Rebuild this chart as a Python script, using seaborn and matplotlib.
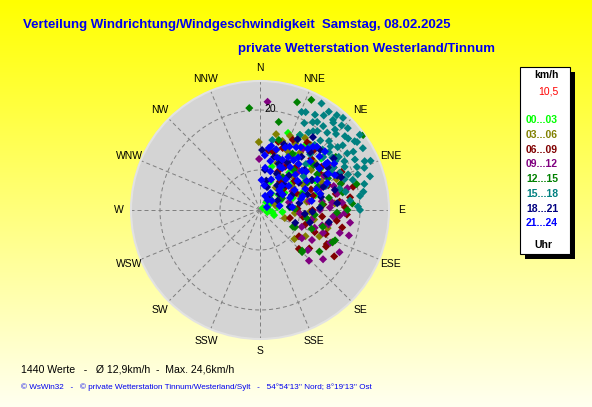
import numpy as np
import pandas as pd
import matplotlib

matplotlib.use("Agg")
import matplotlib.pyplot as plt
from matplotlib.patches import Rectangle
import seaborn as sns

# time-of-day groups and their colours
groups = ["00...03", "03...06", "06...09", "09...12", "12...15", "15...18", "18...21", "21...24"]
group_colors = ["#00FF00", "#808000", "#800000", "#800080", "#008000", "#008080", "#000080", "#0000FF"]

# (direction in degrees, speed in km/h)
pts_00_03 = [(20, 16.4), (35, 15.8), (28, 12.5), (45, 3.0), (60, 2.2), (75, 1.5), (40, 5.5), (55, 6.0),
             (30, 7.5), (50, 8.5), (65, 4.5), (80, 3.5), (25, 10.0), (42, 11.0), (58, 10.5), (70, 7.0),
             (35, 4.0), (15, 9.0), (90, 1.8), (100, 2.5), (48, 13.5), (62, 12.5), (38, 9.5), (52, 4.8),
             (20, 6.0), (68, 9.0), (85, 6.0), (30, 3.2), (44, 7.0), (56, 14.5), (10, 12.0), (75, 11.5),
             (95, 4.5), (110, 3.0), (40, 2.0), (33, 13.0), (56, 0.7), (106, 1.5), (28, 17.0), (15, 12.5),
             (50, 16.0)]
pts_03_06 = [(359, 13.6), (18, 14.5), (22, 16.0), (28, 15.0), (32, 17.0), (25, 13.0), (15, 12.5), (35, 14.0),
             (40, 12.0), (30, 11.0), (20, 10.0), (45, 9.5), (12, 15.5), (38, 16.5), (50, 11.5), (55, 8.0),
             (60, 10.0), (42, 7.0), (70, 8.5), (80, 9.5), (95, 7.0), (108, 5.2), (114, 13.0), (114, 15.8),
             (120, 10.5), (100, 11.0), (72, 3.2), (65, 13.5), (48, 14.5), (27, 8.0), (35, 5.5), (88, 12.0),
             (105, 14.0), (130, 9.0), (58, 16.0), (62, 14.5), (75, 12.5), (85, 15.0), (68, 16.5), (92, 10.0),
             (52, 13.0)]
pts_06_09 = [(82, 18.2), (93, 17.4), (102, 16.8), (112, 11.8), (124, 9.4), (119, 15.1), (101, 13.9), (105, 6.2),
             (99, 8.7), (85, 12.7), (117, 15.0), (76, 19.2), (13, 11.9), (15, 14.1), (20, 13.2), (30, 10.0),
             (40, 11.5), (50, 9.0), (60, 12.0), (45, 14.5), (35, 7.0), (55, 5.5), (65, 8.0), (70, 14.5),
             (90, 10.5), (110, 14.0), (128, 12.5), (95, 15.0), (25, 8.5), (48, 6.5), (75, 11.0), (108, 9.5),
             (135, 11.0), (88, 7.5), (42, 16.0), (122, 17.5), (25, 15.5), (35, 16.5), (55, 15.0), (60, 17.0),
             (8, 12.0), (65, 18.0), (78, 15.5), (72, 17.0), (84, 16.0), (96, 12.5), (58, 14.0), (68, 11.0),
             (88, 17.0), (98, 15.5)]
pts_09_12 = [(98, 18.2), (106, 18.5), (106, 16.6), (104, 12.8), (110, 13.4), (95, 14.7), (124, 10.1), (136, 14.1),
             (4, 21.7), (359, 10.2), (78, 15.8), (58, 16.4), (115, 15.5), (100, 10.5), (120, 12.0), (90, 12.0),
             (85, 16.5), (112, 9.0), (128, 16.0), (70, 13.0), (50, 12.0), (40, 9.0), (30, 12.5), (60, 7.5),
             (45, 11.0), (80, 10.0), (95, 8.0), (118, 18.0), (65, 17.5), (35, 15.0), (25, 10.5), (102, 14.0),
             (108, 11.5), (130, 12.5), (75, 6.0), (88, 14.0), (72, 15.5), (82, 12.5), (62, 14.5), (92, 17.0),
             (76, 18.0), (94, 16.0), (84, 14.5)]
pts_12_15 = [(354, 20.5), (19, 22.8), (25, 24.3), (12, 18.0), (54, 25.5), (134, 11.7), (114, 15.9), (116, 7.8),
             (92, 15.4), (112, 16.2), (135, 11.9), (117, 7.4), (78, 16.9), (30, 13.0), (40, 10.5), (50, 14.0),
             (60, 11.0), (70, 9.0), (45, 6.0), (35, 8.0), (20, 11.0), (55, 18.5), (65, 15.0), (85, 12.5),
             (100, 9.5), (105, 13.0), (125, 14.5), (75, 20.0), (42, 17.0), (28, 16.0), (88, 7.0), (62, 5.0),
             (15, 14.5), (110, 11.0), (80, 14.0), (68, 12.5), (90, 17.5), (58, 13.5), (72, 17.0), (95, 11.0),
             (86, 18.5)]
pts_15_18 = [(30, 24.6), (25, 21.6), (39, 24.4), (39, 23.2), (34, 22.8), (54, 23.4), (51, 22.7), (66, 24.2),
             (66, 21.2), (31, 20.5), (41, 20.5), (51, 20.0), (54, 17.9), (65, 17.6), (41, 18.4), (32, 18.3),
             (57, 20.8), (46, 17.4), (10, 14.2), (23, 21.3), (55, 23.7), (65, 23.1), (70, 20.8), (84, 18.1),
             (88, 19.6), (82, 20.2), (45, 21.5), (48, 19.0), (36, 19.5), (44, 23.5), (60, 19.5), (58, 22.0),
             (62, 16.0), (50, 16.5), (38, 16.0), (28, 17.0), (42, 15.0), (55, 14.5), (70, 18.0), (75, 16.5),
             (47, 24.0), (35, 24.0), (62, 21.5), (53, 25.0), (43, 22.0), (40, 17.0), (57, 18.0), (33, 21.0),
             (30, 22.0), (37, 21.0), (42, 24.8), (49, 22.5), (52, 21.0), (56, 19.0), (59, 24.0), (63, 19.0),
             (68, 22.5), (72, 19.5), (78, 17.5), (45, 19.5), (40, 22.8), (34, 19.0), (27, 19.5), (50, 18.0),
             (60, 17.0), (73, 23.0), (80, 21.0), (90, 20.0), (45, 13.0), (60, 12.0), (70, 14.0), (52, 11.0),
             (76, 21.5), (68, 19.0)]
pts_18_21 = [(17, 4.8), (7, 8.1), (84, 6.0), (104, 10.3), (66, 16.9), (41, 15.3), (2, 12.0), (12, 6.0),
             (15, 11.0), (20, 14.0), (25, 8.0), (28, 16.0), (30, 11.0), (35, 6.0), (38, 13.5), (40, 9.0),
             (45, 17.0), (48, 12.0), (50, 5.0), (52, 14.5), (55, 9.5), (58, 16.0), (60, 12.0), (65, 7.0),
             (70, 13.5), (72, 10.0), (75, 15.5), (80, 8.0), (88, 12.0), (95, 9.0), (100, 14.0), (110, 7.5),
             (32, 3.5), (44, 7.0), (62, 4.0), (22, 10.0), (36, 18.0), (62, 15.0), (78, 12.5), (85, 15.5),
             (68, 17.5), (55, 18.0), (92, 10.5)]
pts_21_24 = [(7, 8.5), (67, 1.5), (3, 6.0), (5, 11.0), (10, 5.0), (10, 13.0), (15, 8.0), (15, 12.5),
             (18, 11.0), (20, 6.5), (22, 13.5), (25, 9.5), (25, 14.0), (28, 12.0), (30, 7.5), (30, 14.5),
             (32, 4.0), (33, 15.0), (35, 10.5), (36, 13.0), (38, 15.5), (40, 8.0), (40, 12.0), (42, 17.0),
             (44, 5.5), (45, 10.0), (46, 14.0), (48, 16.0), (50, 7.5), (50, 12.0), (52, 9.5), (55, 14.5),
             (56, 5.5), (58, 11.0), (60, 8.0), (62, 13.0), (65, 10.0), (68, 6.5), (70, 12.0), (75, 8.5),
             (78, 4.0), (80, 10.5), (85, 6.5), (20, 3.0), (38, 2.5), (52, 3.0), (28, 9.5), (42, 6.5),
             (12, 10.0), (34, 12.0), (47, 11.5), (24, 11.0), (8, 12.5), (55, 16.5), (62, 15.5), (68, 14.5),
             (72, 9.0), (48, 17.5), (55, 16.0), (58, 17.5), (65, 16.5), (75, 12.5), (40, 16.5)]
all_pts = [pts_00_03, pts_03_06, pts_06_09, pts_09_12, pts_12_15, pts_15_18, pts_18_21, pts_21_24]

compass = ["N", "NNE", "NE", "ENE", "E", "ESE", "SE", "SSE",
           "S", "SSW", "SW", "WSW", "W", "WNW", "NW", "NNW"]
ring_speeds = [8, 20]
r_max = 25.8

title = "Verteilung Windrichtung/Windgeschwindigkeit  Samstag, 08.02.2025"
subtitle = "private Wetterstation Westerland/Tinnum"
stats_line = "1440 Werte   -   \u00d8 12,9km/h  -  Max. 24,6km/h"
credit_line = "\u00a9 WsWin32   -   \u00a9 private Wetterstation Tinnum/Westerland/Sylt   -   54\u00b054'13'' Nord; 8\u00b019'13'' Ost"
current_speed = "10,5"

rows = []
for g, pts in zip(groups, all_pts):
    for d, s in pts:
        rows.append((g, np.deg2rad(d), s))
df = pd.DataFrame(rows, columns=["group", "theta", "speed"])

plt.rcParams["font.family"] = ["Liberation Sans", "DejaVu Sans"]

W, H = 592, 407


def fx(px):
    return px / W


def fy(py):
    return 1 - py / H


fig = plt.figure(figsize=(W / 100, H / 100), dpi=100)

# yellow to cream gradient background
bg = fig.add_axes([0, 0, 1, 1])
grad = np.linspace(0, 0.94, 256)
img = np.ones((256, 1, 3))
img[:, 0, 2] = grad
bg.imshow(img, aspect="auto", extent=[0, 1, 0, 1])
bg.axis("off")

ax = fig.add_axes([fx(131), fy(339), 258 / W, 258 / H], projection="polar")
ax.set_theta_zero_location("N")
ax.set_theta_direction(-1)
ax.set_facecolor("#D4D4D4")
ax.grid(False)
ax.spines["polar"].set_color("#E2E2E2")
ax.spines["polar"].set_linewidth(1.5)

dash = (0, (4, 3))
for k in range(16):
    th = np.deg2rad(22.5 * k)
    ax.plot([th, th], [0, r_max], color="#808080", lw=0.72, ls=dash, zorder=1)
circ = np.linspace(0, 2 * np.pi, 361)
for r in ring_speeds:
    ax.plot(circ, np.full_like(circ, r), color="#808080", lw=0.72, ls=dash, zorder=1)

sns.scatterplot(data=df, x="theta", y="speed", hue="group", hue_order=groups,
                palette=dict(zip(groups, group_colors)), marker="D", s=17,
                linewidth=0, legend=False, ax=ax, zorder=3)
ax.set_xlabel("")
ax.set_ylabel("")
ax.set_xticks([])
ax.set_yticks([])
ax.set_ylim(0, r_max)

for k, name in enumerate(compass):
    ax.text(np.deg2rad(22.5 * k), 28.3, name, ha="center", va="center",
            fontsize=7.5, color="black", clip_on=False)
ax.text(np.deg2rad(5.7), 20.2, "20", ha="center", va="center", fontsize=7.5, color="black", zorder=4)

# titles
fig.text(fx(22.7), fy(25), title, ha="left", va="center", fontsize=9.55, fontweight="bold", color="#0000EE")
fig.text(fx(238), fy(49), subtitle, ha="left", va="center", fontsize=9.5, fontweight="bold", color="#0000EE")

# footer
fig.text(fx(20.7), fy(370), stats_line, ha="left", va="center", fontsize=7.6, color="black")
fig.text(fx(20.7), fy(386.7), credit_line, ha="left", va="center", fontsize=5.85, color="#0000EE")

# legend box with shadow
fig.add_artist(Rectangle((fx(525), fy(259)), 50 / W, 187 / H, transform=fig.transFigure,
                         facecolor="black", edgecolor="none"))
fig.add_artist(Rectangle((fx(520), fy(254)), 50 / W, 187 / H, transform=fig.transFigure,
                         facecolor="white", edgecolor="black", linewidth=0.8))
fig.text(fx(546), fy(75), "km/h", ha="center", va="center", fontsize=7.5, fontweight="bold", color="black")
fig.text(fx(548), fy(92), current_speed, ha="center", va="center", fontsize=7.5, color="#FF0000")
for i, (g, c) in enumerate(zip(groups, group_colors)):
    fig.text(fx(542), fy(120 + 14.76 * i), g, ha="center", va="center",
             fontsize=7.5, fontweight="bold", color=c)
fig.text(fx(543), fy(245), "Uhr", ha="center", va="center", fontsize=7.5, fontweight="bold", color="black")

fig.savefig("out.png", dpi=100)
